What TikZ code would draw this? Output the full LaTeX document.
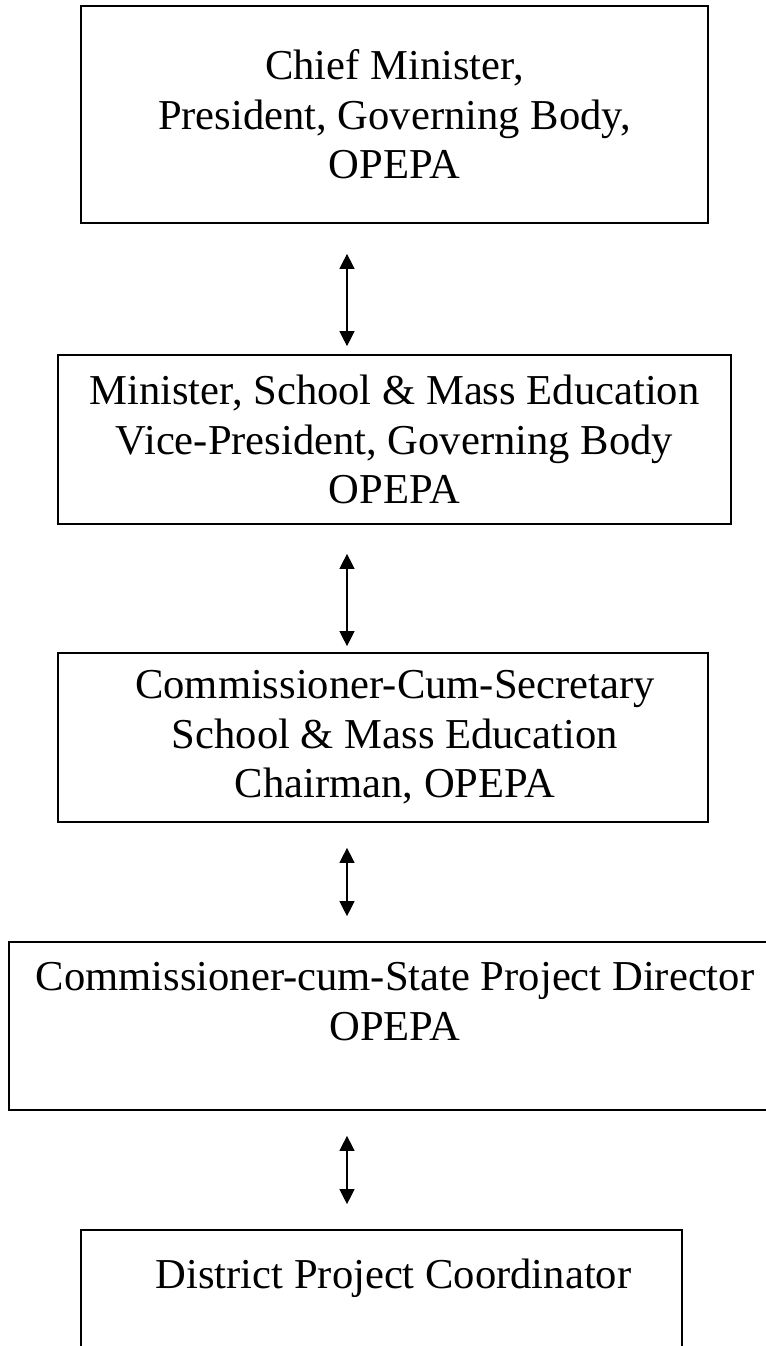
\documentclass[tikz,border=0pt]{standalone}
\usepackage{fontspec}
\setmainfont{Liberation Serif}
\usepackage{tikz}
\usetikzlibrary{arrows.meta}
\usetikzlibrary{positioning}
\usetikzlibrary{calc}
\tikzset{box/.style={draw, rectangle, line width=0.85pt, align=center, font=\fontsize{21.3}{24.75}\selectfont},
  link/.style={<->, >={Triangle[length=7.5pt, width=7.5pt]}, line width=0.65pt}}
\newcommand{\padl}{\hspace*{12pt}}

\begin{document}
\begin{tikzpicture}[x=0.5pt, y=-0.5pt]
\tikzstyle{every node}+=[inner sep=0pt]
\useasboundingbox (0,0) rectangle (766,1346);
\node [box, minimum width=313.5pt, minimum height=108.5pt] (chief) at (394.5,114.5) {Chief Minister,\\President, Governing Body,\\OPEPA};
\node [box, minimum width=336.5pt, minimum height=84.5pt] (minister) at (394.5,439.5) {Minister, School \& Mass Education\\Vice-President, Governing Body\\OPEPA};
\node [box, minimum width=325pt, minimum height=84.5pt] (secretary) at (383,737.5) {\padl Commissioner-Cum-Secretary\\\padl School \& Mass Education\\\padl Chairman, OPEPA};
\node [box, minimum width=386pt, minimum height=84pt] (spd) at (395,1026) {Commissioner-cum-State Project Director\\OPEPA\\{}};
\node [box, minimum width=300.5pt, minimum height=68pt] (dpc) at (381.5,1298) {\padl District Project Coordinator\\{}};
\coordinate (axis) at (347,0);
% arrows between the levels
\draw [link, shorten <=15pt, shorten >=4pt] (chief.south -| axis) -- (minister.north -| axis);
\draw [link, shorten <=14.5pt, shorten >=3pt] (minister.south -| axis) -- (secretary.north -| axis);
\draw [link, shorten <=12.5pt, shorten >=12.5pt] (secretary.south -| axis) -- (spd.north -| axis);
\draw [link, shorten <=12.5pt, shorten >=12.5pt] (spd.south -| axis) -- (dpc.north -| axis);
\end{tikzpicture}
\end{document}
